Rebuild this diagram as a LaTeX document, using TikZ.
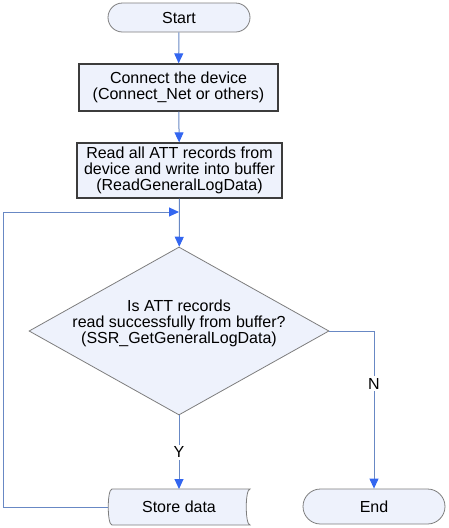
\documentclass[tikz,border=0pt]{standalone}
\usepackage{fontspec}
\setmainfont{Liberation Sans}
\usetikzlibrary{arrows.meta,shapes.geometric,shapes.misc,backgrounds}
\definecolor{boxfill}{RGB}{238,242,252}
\definecolor{flowline}{RGB}{104,136,196}
\definecolor{tipblue}{RGB}{51,102,240}
\definecolor{edgegray}{RGB}{125,125,125}
\definecolor{boxgray}{RGB}{60,60,60}

\begin{document}
\begin{tikzpicture} [x=1pt, y=-1pt,
    >={Triangle[length=10pt, width=9pt, color=tipblue]},
    line width=1pt,
    every node/.style={font=\fontsize{16}{16}\selectfont, align=center, inner sep=0pt},
    term/.style={rounded rectangle, draw=edgegray, fill=boxfill, minimum width=142pt, line width=0.8pt},
    proc/.style={rectangle, draw=boxgray, fill=boxfill, line width=1.3pt},
    cond/.style={diamond, draw=edgegray, fill=boxfill, aspect=1.79,
      minimum width=300pt, minimum height=168pt, line width=0.8pt},
    flow/.style={->, draw=flowline}]
  \useasboundingbox (0,0) rectangle (449,528);

  \node[term, minimum height=29pt] (start) at (179,17.5) {Start};
  \node[proc, minimum width=199pt, minimum height=47pt] (connect) at (178.5,87.5)
    {Connect the device\\(Connect\_Net or others)};
  \node[proc, minimum width=205pt, minimum height=55pt] (read) at (179.5,170.5)
    {Read all ATT records from\\device and write into buffer\\(ReadGeneralLogData)};
  \node[cond, label={[align=center, yshift=8pt]center:Is ATT records\\read successfully from buffer?\\(SSR\_GetGeneralLogData)}]
    (check) at (179,331) {};
  \node[minimum width=141pt, minimum height=35pt] (store) at (179,507) {Store data};
  \node[term, minimum height=35pt] (stop) at (374,506.5) {End};

  % stored data symbol
  \begin{scope}[on background layer]
    \draw[edgegray, fill=boxfill, line width=0.8pt]
      ([xshift=4pt]store.north west)
        .. controls ([xshift=-1pt]store.north west) and ([xshift=-1pt]store.south west)
        .. ([xshift=4pt]store.south west)
      -- (store.south east)
        .. controls ([xshift=-5pt]store.south east) and ([xshift=-5pt]store.north east)
        .. (store.north east)
      -- cycle;
  \end{scope}

  \coordinate (corner) at (3.5,212);
  \coordinate (join) at (179,212);

  \draw[flow] (start) -- (connect);
  \draw[flow] (connect) -- (read);
  \draw[flow] (read) -- (check);
  \draw[flow] (store.west) -| (corner) -- (join);
  \draw[flow] (check.south) -- node[fill=white, inner sep=2pt] {Y} (store.north);
  \draw[flow] (check.east) -| node[pos=0.668, fill=white, inner sep=2pt] {N} (stop.north);
\end{tikzpicture}
\end{document}
